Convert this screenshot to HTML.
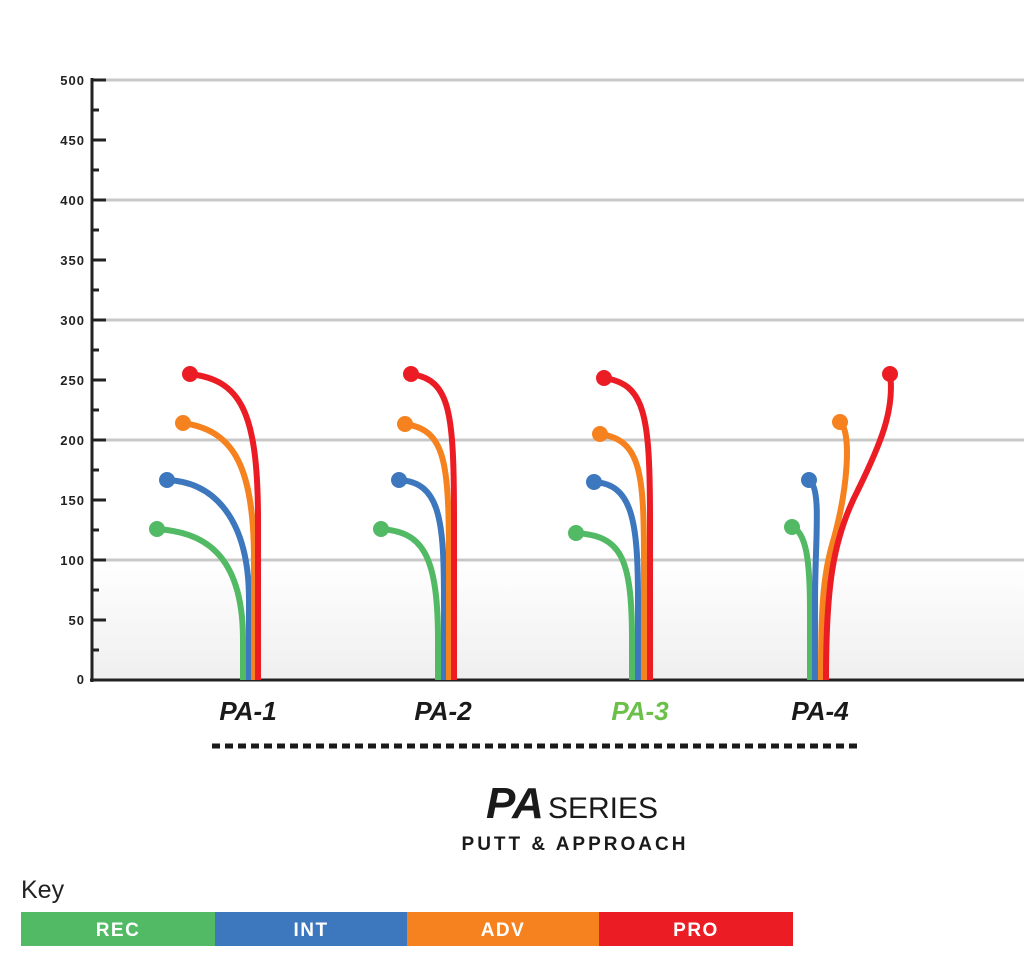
<!DOCTYPE html>
<html><head><meta charset="utf-8"><style>
body{margin:0;background:#fff;width:1024px;height:966px;overflow:hidden;font-family:"Liberation Sans",sans-serif}
</style></head><body>
<svg width="1024" height="966" viewBox="0 0 1024 966" xmlns="http://www.w3.org/2000/svg">
<defs><linearGradient id="bg" x1="0" y1="0" x2="0" y2="1"><stop offset="0" stop-color="#fff"/><stop offset="1" stop-color="#efefef"/></linearGradient></defs>
<rect x="92" y="560" width="932" height="120" fill="url(#bg)"/>
<g stroke="#c8c8c8" stroke-width="3">
<line x1="104" y1="80" x2="1024" y2="80"/><line x1="104" y1="200" x2="1024" y2="200"/><line x1="104" y1="320" x2="1024" y2="320"/><line x1="104" y1="440" x2="1024" y2="440"/><line x1="104" y1="560" x2="1024" y2="560"/>
</g>
<g stroke="#222" stroke-width="3">
<line x1="92" y1="78" x2="92" y2="682"/><line x1="90" y1="680" x2="1024" y2="680"/>
<line x1="92" y1="80" x2="106" y2="80"/><line x1="92" y1="140" x2="106" y2="140"/><line x1="92" y1="200" x2="106" y2="200"/><line x1="92" y1="260" x2="106" y2="260"/><line x1="92" y1="320" x2="106" y2="320"/><line x1="92" y1="380" x2="106" y2="380"/><line x1="92" y1="440" x2="106" y2="440"/><line x1="92" y1="500" x2="106" y2="500"/><line x1="92" y1="560" x2="106" y2="560"/><line x1="92" y1="620" x2="106" y2="620"/>
<line x1="92" y1="110" x2="99" y2="110"/><line x1="92" y1="170" x2="99" y2="170"/><line x1="92" y1="230" x2="99" y2="230"/><line x1="92" y1="290" x2="99" y2="290"/><line x1="92" y1="350" x2="99" y2="350"/><line x1="92" y1="410" x2="99" y2="410"/><line x1="92" y1="470" x2="99" y2="470"/><line x1="92" y1="530" x2="99" y2="530"/><line x1="92" y1="590" x2="99" y2="590"/><line x1="92" y1="650" x2="99" y2="650"/>
</g>
<g font-size="13" font-weight="bold" fill="#222" text-anchor="end" letter-spacing="1">
<text x="85" y="85">500</text><text x="85" y="145">450</text><text x="85" y="205">400</text><text x="85" y="265">350</text><text x="85" y="325">300</text><text x="85" y="385">250</text><text x="85" y="445">200</text><text x="85" y="505">150</text><text x="85" y="565">100</text><text x="85" y="625">50</text><text x="85" y="684">0</text>
</g>
<g fill="none" stroke-width="6">
<path d="M157,529 C200,532 243,550 243,640 L243,680" stroke="#52b964"/>
<path d="M167,480 C215,482 249,520 249,600 L249,680" stroke="#3d77bd"/>
<path d="M183,423 C230,430 254,460 254,560 L254,680" stroke="#f5821f"/>
<path d="M190,374 C240,380 258,410 258,520 L258,680" stroke="#ec1c24"/>
<path d="M381,529 C420,532 438,550 438,640 L438,680" stroke="#52b964"/>
<path d="M399,480 C440,482 444,520 444,600 L444,680" stroke="#3d77bd"/>
<path d="M405,424 C445,430 449,460 449,560 L449,680" stroke="#f5821f"/>
<path d="M411,374 C450,380 454,410 454,520 L454,680" stroke="#ec1c24"/>
<path d="M576,533 C620,536 632,555 632,640 L632,680" stroke="#52b964"/>
<path d="M594,482 C632,484 638,520 638,600 L638,680" stroke="#3d77bd"/>
<path d="M600,434 C640,440 644,470 644,560 L644,680" stroke="#f5821f"/>
<path d="M604,378 C645,384 650,414 650,520 L650,680" stroke="#ec1c24"/>
<path d="M792,527 C806,532 810,560 810,610 L810,680" stroke="#52b964"/>
<path d="M809,480 C822,488 815,540 815,600 L815,680" stroke="#3d77bd"/>
<path d="M840,422 C852,432 848,490 832,545 C822,580 821,620 821,680" stroke="#f5821f"/>
<path d="M890,374 C895,410 880,445 858,490 C832,540 826,590 826,680" stroke="#ec1c24"/>
</g>
<g>
<circle cx="157" cy="529" r="8" fill="#52b964"/><circle cx="167" cy="480" r="8" fill="#3d77bd"/><circle cx="183" cy="423" r="8" fill="#f5821f"/><circle cx="190" cy="374" r="8" fill="#ec1c24"/>
<circle cx="381" cy="529" r="8" fill="#52b964"/><circle cx="399" cy="480" r="8" fill="#3d77bd"/><circle cx="405" cy="424" r="8" fill="#f5821f"/><circle cx="411" cy="374" r="8" fill="#ec1c24"/>
<circle cx="576" cy="533" r="8" fill="#52b964"/><circle cx="594" cy="482" r="8" fill="#3d77bd"/><circle cx="600" cy="434" r="8" fill="#f5821f"/><circle cx="604" cy="378" r="8" fill="#ec1c24"/>
<circle cx="792" cy="527" r="8" fill="#52b964"/><circle cx="809" cy="480" r="8" fill="#3d77bd"/><circle cx="840" cy="422" r="8" fill="#f5821f"/><circle cx="890" cy="374" r="8" fill="#ec1c24"/>
</g>
<g font-size="26" font-weight="bold" font-style="italic" text-anchor="middle" fill="#1a1a1a">
<text x="248" y="720">PA-1</text><text x="443" y="720">PA-2</text><text x="640" y="720" fill="#6cc04a">PA-3</text><text x="820" y="720">PA-4</text>
</g>
<line x1="212" y1="746" x2="858" y2="746" stroke="#1a1a1a" stroke-width="5" stroke-dasharray="8,5"/>
<text x="486" y="818" font-size="44" font-weight="bold" font-style="italic" fill="#1a1a1a">PA</text>
<text x="548" y="818" font-size="30" fill="#1a1a1a">SERIES</text>
<text x="575" y="850" font-size="19" font-weight="bold" text-anchor="middle" fill="#1a1a1a" letter-spacing="3">PUTT &amp; APPROACH</text>
<text x="21" y="898" font-size="25" fill="#222">Key</text>
<rect x="21" y="912" width="194" height="34" fill="#52b964"/>
<rect x="215" y="912" width="192" height="34" fill="#3d77bd"/>
<rect x="407" y="912" width="192" height="34" fill="#f5821f"/>
<rect x="599" y="912" width="194" height="34" fill="#ec1c24"/>
<g font-size="19" font-weight="bold" fill="#fff" text-anchor="middle" letter-spacing="1.5">
<text x="118" y="936">REC</text><text x="311" y="936">INT</text><text x="503" y="936">ADV</text><text x="696" y="936">PRO</text>
</g>
</svg>
</body></html>
